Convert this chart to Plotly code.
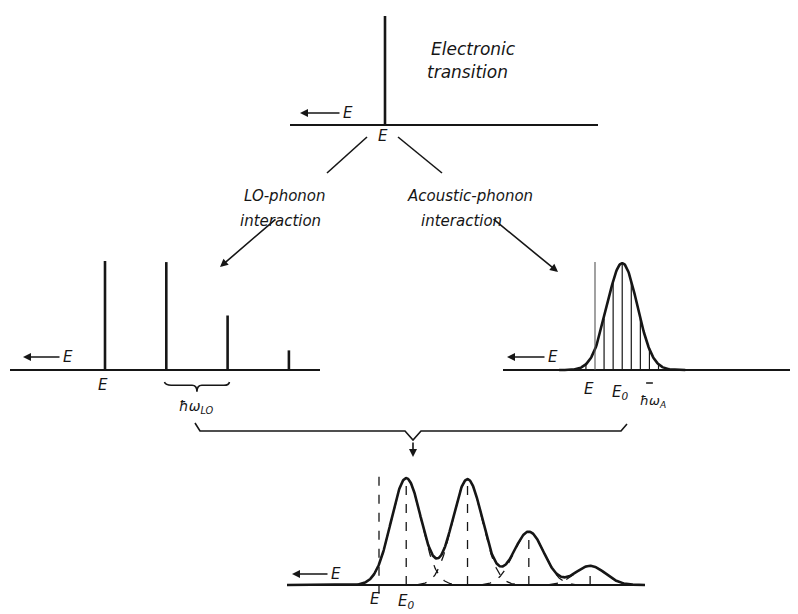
import numpy as np
import plotly.graph_objects as go

W, H = 798, 614          # browser window
OFF = 8                  # page body margin
FW, FH = W - OFF, H - OFF  # figure size so the page fills the window exactly

# ---------------- data (energies in units of ħω_LO, E = 0, energy increases to the left) ----
lo_orders = [0, 1, 2, 3]                  # LO-phonon replica index
lo_heights = [1.0, 0.99, 0.50, 0.18]      # relative line strengths
electronic_height = 1.0                   # sharp electronic transition
acoustic_peak = 0.98                      # acoustic-broadened band peak
acoustic_sigma = 0.245                    # width of acoustic band
acoustic_shift = 0.444                    # E - E0
hatch_index = [-4, -3, -2, -1, 0, 1, 2, 3, 4]
hatch_step = 0.148                        # ħω_A spacing of hatch lines
e_line_height_c = 0.99
e_line_height_d = 1.01

# ---------------- panel placement (window pixels) ----------------
UX, UY = 61.3, 109.0
panels = {
    "A": dict(l=290, r=598, yb=125, ex=385),
    "B": dict(l=10, r=320, yb=370, ex=105),
    "C": dict(l=503, r=798, yb=370, ex=595),
    "D": dict(l=287, r=645, yb=585, ex=379),
}
axis_ids = {"A": "", "B": "2", "C": "3", "D": "4"}

INK = "#161616"
FONT = "DejaVu Sans"


def fx(x):
    return (x - OFF) / FW


def fy(y):
    return 1 - (y - OFF) / FH


def P(x, y):
    return fx(x), fy(y)


fig = go.Figure()
layout_axes = {}
for key, p in panels.items():
    aid = axis_ids[key]
    xmax = (p["ex"] - p["l"]) / UX
    xmin = -(p["r"] - p["ex"]) / UX
    p["xmax"], p["xmin"] = xmax, xmin
    top_px = max(OFF, p["yb"] - 130)
    bot_px = min(H, p["yb"] + 50)
    yrange = [-(bot_px - p["yb"]) / UY, (p["yb"] - top_px) / UY]
    layout_axes["xaxis" + aid] = dict(domain=[fx(p["l"]), fx(p["r"])], range=[xmax, xmin],
                                      visible=False, fixedrange=True,
                                      anchor="y" + aid)
    layout_axes["yaxis" + aid] = dict(domain=[fy(bot_px), fy(top_px)],
                                      range=yrange, visible=False, fixedrange=True,
                                      anchor="x" + aid)


def tr(key, x, y, width=2.2, dash="solid", color=INK):
    aid = axis_ids[key]
    fig.add_trace(go.Scatter(x=x, y=y, mode="lines", xaxis="x" + aid, yaxis="y" + aid,
                             line=dict(color=color, width=width, dash=dash),
                             hoverinfo="skip", showlegend=False, cliponaxis=False))


def label(key, x, y, text, size=15, **kw):
    aid = axis_ids[key]
    fig.add_annotation(x=x, y=y, xref="x" + aid, yref="y" + aid, text=f"<i>{text}</i>",
                       showarrow=False, font=dict(family=FONT, size=size, color=INK), **kw)


def gauss(x, c, h):
    return h * np.exp(-((x - c) ** 2) / (2 * acoustic_sigma ** 2))


# baselines
for key, p in panels.items():
    tr(key, [p["xmax"], p["xmin"]], [0, 0], width=2)

# Panel A: electronic transition
tr("A", [0, 0], [0, electronic_height], width=2.6)
label("A", 0.04, -11 / UY, "E")

# Panel B: LO-phonon lines
for k, h in zip(lo_orders, lo_heights):
    tr("B", [-k, -k], [0, h], width=2.6)
label("B", 0.03, -15 / UY, "E")
fig.add_shape(type="path", xref="x2", yref="y2", line=dict(color=INK, width=1.6),
              path=("M -0.97,-0.11 Q -0.99,-0.14 -1.08,-0.14 L -1.42,-0.14 "
                    "Q -1.5,-0.14 -1.5,-0.2 Q -1.5,-0.14 -1.58,-0.14 "
                    "L -1.94,-0.14 Q -2.02,-0.14 -2.03,-0.11"))
label("B", -1.5, -0.34, "ħω<sub>LO</sub>", size=14)

# Panel C: acoustic-phonon band
E0 = -acoustic_shift
xc = np.linspace(E0 - 4.2 * acoustic_sigma, E0 + 4.2 * acoustic_sigma, 200)
tr("C", xc, gauss(xc, E0, acoustic_peak), width=2.6)
for i in hatch_index:
    xh = E0 + i * hatch_step
    if i == 3:
        continue
    tr("C", [xh, xh], [0, float(gauss(xh, E0, acoustic_peak))], width=1.2)
tr("C", [0, 0], [0, e_line_height_c], width=1.1, color="#555555")
label("C", 0.1, -19 / UY, "E")
label("C", E0 + 0.03, -22 / UY, "E<sub>0</sub>")
label("C", E0 - 0.5, -31 / UY, "ħω<sub>A</sub>", size=13)
fig.add_shape(type="line", xref="x3", yref="y3", x0=E0 - 0.39, x1=E0 - 0.5,
              y0=-13 / UY, y1=-13 / UY, line=dict(color=INK, width=1.5))

# Panel D: combined spectrum
xd = np.linspace(panels["D"]["xmax"], panels["D"]["xmin"], 800)
total = np.zeros_like(xd)
for k, h in zip(lo_orders, lo_heights):
    comp = gauss(xd, E0 - k, acoustic_peak * h)
    total += comp
    mask = comp > 0.004
    tr("D", xd[mask], comp[mask], width=1.3, dash="dash")
tr("D", xd, total, width=2.6)
for k, h in zip(lo_orders, lo_heights):
    c = E0 - k
    peak = sum(gauss(c, E0 - j, acoustic_peak * hh) for j, hh in zip(lo_orders, lo_heights))
    tr("D", [c, c], [0, float(peak)], width=1.3, dash="dash")
tr("D", [0, 0], [-0.08, e_line_height_d], width=1.3, dash="dash")
label("D", 0.06, -14 / UY, "E")
label("D", E0, -16 / UY, "E<sub>0</sub>")

# "← E" direction markers: text at the tail, arrow pointing to higher energy (left)
for (tip, text_x) in [((300, 113), 348), ((23, 357), 68), ((507, 357), 553), ((292, 574), 336)]:
    x, y = P(*tip)
    fig.add_annotation(x=x, y=y, xref="paper", yref="paper", ax=text_x - tip[0], ay=0,
                       text="<i>E</i>", showarrow=True, arrowhead=2, arrowsize=1,
                       arrowwidth=1.6, arrowcolor=INK, standoff=0, startstandoff=2,
                       font=dict(family=FONT, size=15, color=INK))

# connectors from top panel
for (a, b) in [((367, 137), (327, 173)), ((398, 137), (442, 173))]:
    x0, y0 = P(*a)
    x1, y1 = P(*b)
    fig.add_shape(type="line", xref="paper", yref="paper", x0=x0, y0=y0, x1=x1, y1=y1,
                  line=dict(color=INK, width=1.6))
for (tip, tail) in [((220, 267), (277, 218)), ((558, 272), (492, 218))]:
    x, y = P(*tip)
    fig.add_annotation(x=x, y=y, xref="paper", yref="paper", ax=tail[0] - tip[0],
                       ay=tail[1] - tip[1], text="", showarrow=True, arrowhead=2,
                       arrowsize=1, arrowwidth=1.6, arrowcolor=INK)

# text labels
texts = [
    ((429, 37), "Electronic", "left", 17),
    ((425, 60), "transition", "left", 17),
    ((285, 185), "LO-phonon", "center", 15),
    ((280, 210), "interaction", "center", 15),
    ((470, 185), "Acoustic-phonon", "center", 15),
    ((462, 210), "interaction", "center", 15),
]
for (pt, t, anchor, size) in texts:
    x, y = P(*pt)
    fig.add_annotation(x=x, y=y, xref="paper", yref="paper", text=f"<i>{t}</i>",
                       showarrow=False, xanchor=anchor,
                       font=dict(family=FONT, size=size, color=INK))

# big brace combining the two spectra
pts = [(195, 423), (200, 431), (405, 431), (413, 440), (421, 431), (621, 431), (627, 424)]
path = "M " + " L ".join(f"{P(*q)[0]:.5f},{P(*q)[1]:.5f}" for q in pts)
fig.add_shape(type="path", xref="paper", yref="paper", path=path,
              line=dict(color=INK, width=1.6))
x, y = P(413, 457)
fig.add_annotation(x=x, y=y, xref="paper", yref="paper", ax=0, ay=-16, text="",
                   showarrow=True, arrowhead=2, arrowsize=1, arrowwidth=1.6, arrowcolor=INK)

fig.update_layout(width=FW, height=FH, margin=dict(l=0, r=0, t=0, b=0),
                  paper_bgcolor="white", plot_bgcolor="rgba(0,0,0,0)",
                  showlegend=False, **layout_axes)

fig.write_html("out.html")
